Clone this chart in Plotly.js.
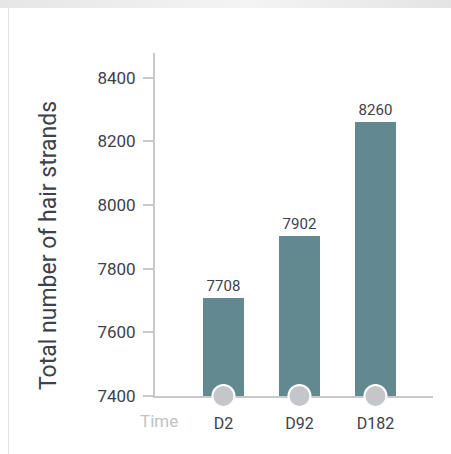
<!DOCTYPE html>
<html>
<head>
<meta charset="utf-8">
<script src="https://cdn.plot.ly/plotly-3.0.1.min.js"></script>
<style>
  html, body { margin: 0; padding: 0; background: #ffffff; }
  #wrap { position: relative; width: 451px; height: 454px; overflow: hidden; }
  #band { position: absolute; left: 0; top: 0; width: 451px; height: 8px;
          background: linear-gradient(to right, #e6e6e6, #f4f4f4 55%, #e4e4e4); }
  #edge { position: absolute; left: 8px; top: 8px; width: 1px; height: 446px; background: #e2e2e2; }
  #chart { position: absolute; left: 0; top: 0; width: 451px; height: 454px; }
</style>
</head>
<body>
<div id="wrap">
  <div id="band"></div>
  <div id="edge"></div>
  <div id="chart"></div>
</div>
<script>
// Hair strand counts at each visit
const visits = ['D2', 'D92', 'D182'];
const strandCounts = [7708, 7902, 8260];
const yTicks = [7400, 7600, 7800, 8000, 8200, 8400];
const baseValue = 7400;

const FONT = 'Roboto, "Liberation Sans", sans-serif';
const INK = '#3c414b';

const bars = {
  type: 'bar',
  x: visits,
  y: strandCounts,
  width: 0.54,
  marker: { color: '#62898f' },
  text: strandCounts.map(String),
  textposition: 'outside',
  textfont: { family: FONT, size: 15, color: INK },
  cliponaxis: false,
  hoverinfo: 'x+y'
};

// Grey dots sitting on the baseline under each bar
const dots = {
  type: 'scatter',
  mode: 'markers',
  x: visits,
  y: visits.map(() => baseValue),
  marker: { size: 22, color: '#c5c6ca', line: { color: '#ffffff', width: 2 } },
  cliponaxis: false,
  hoverinfo: 'skip'
};

const layout = {
  width: 451,
  height: 454,
  margin: { l: 155, r: 18, t: 53, b: 58 },
  paper_bgcolor: 'rgba(0,0,0,0)',
  plot_bgcolor: 'rgba(0,0,0,0)',
  showlegend: false,
  bargap: 0,
  xaxis: {
    type: 'category',
    range: [-0.901, 2.757],
    showline: true,
    linecolor: '#c9c9c9',
    linewidth: 2,
    layer: 'below traces',
    ticks: '',
    showgrid: false,
    zeroline: false,
    ticklabelstandoff: 12,
    tickfont: { family: FONT, size: 16, color: INK },
    fixedrange: true
  },
  yaxis: {
    range: [7400, 8478],
    tickvals: yTicks,
    ticktext: yTicks.map(String),
    showline: true,
    linecolor: '#c9c9c9',
    linewidth: 2,
    ticks: 'outside',
    ticklen: 10,
    tickwidth: 2,
    tickcolor: '#c9c9c9',
    showgrid: false,
    zeroline: false,
    ticklabelstandoff: 4,
    tickfont: { family: FONT, size: 17, color: INK },
    fixedrange: true
  },
  annotations: [
    {
      text: 'Total number of hair strands',
      xref: 'paper', yref: 'paper',
      x: -0.385, y: 0.44,
      xanchor: 'center', yanchor: 'middle',
      textangle: -90,
      showarrow: false,
      font: { family: FONT, size: 23, color: INK }
    },
    {
      text: 'Time',
      xref: 'x', yref: 'paper',
      x: -0.848, y: 0,
      xanchor: 'center', yanchor: 'top',
      yshift: -13,
      showarrow: false,
      font: { family: FONT, size: 17, color: '#c2c2c2' }
    }
  ]
};

Plotly.newPlot('chart', [bars, dots], layout, { displayModeBar: false, staticPlot: true });
</script>
</body>
</html>
